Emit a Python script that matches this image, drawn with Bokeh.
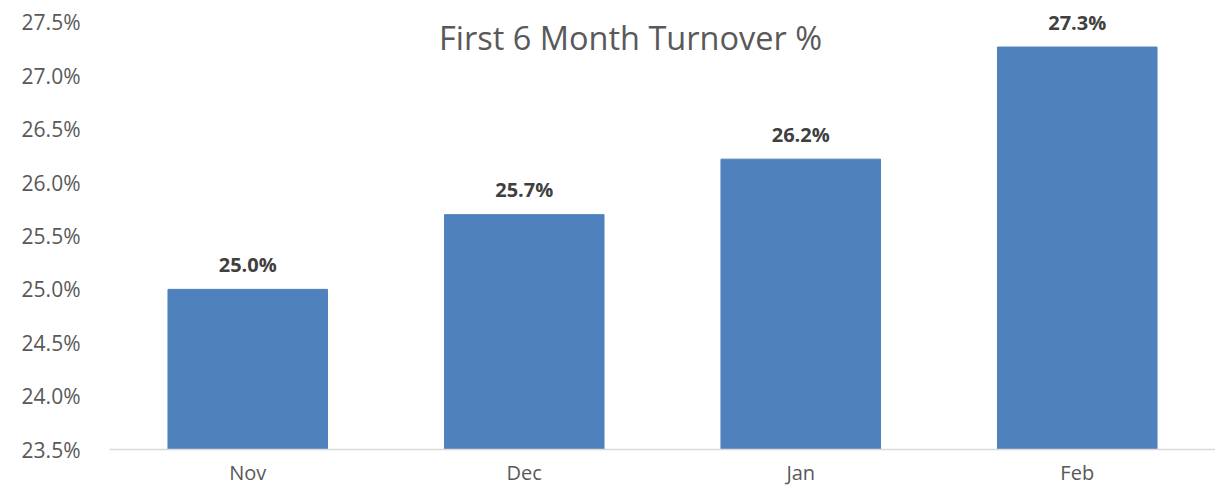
from bokeh.plotting import figure
from bokeh.models import ColumnDataSource, LabelSet, Label, NumeralTickFormatter, FixedTicker, Range1d
from bokeh.core.properties import value
from bokeh.embed import file_html
from bokeh.resources import INLINE

months = ["Nov", "Dec", "Jan", "Feb"]
turnover = [0.250, 0.257, 0.2622, 0.2727]
labels = ["25.0%", "25.7%", "26.2%", "27.3%"]
y_ticks = [0.235, 0.240, 0.245, 0.250, 0.255, 0.260, 0.265, 0.270, 0.275]

src = ColumnDataSource(dict(m=months, v=turnover, lab=labels))

p = figure(x_range=months, y_range=Range1d(0.235, 0.27706), width=1215, height=488,
           output_backend="svg", toolbar_location=None,
           min_border_left=109, min_border_right=0, min_border_top=0, min_border_bottom=39)
p.vbar(x="m", top="v", bottom=0.235, width=0.577, color="#4F81BD", source=src)

p.add_layout(LabelSet(x="m", y="v", text="lab", source=src, text_align="center",
                      text_baseline="middle", y_offset=25, text_font=value("Open Sans"),
                      text_font_size="20px", text_font_style="bold", text_color="#404040"))

p.add_layout(Label(x=521, y=412, x_units="screen", y_units="screen",
                   text="First 6 Month Turnover %", text_align="center", text_baseline="middle",
                   text_font="Open Sans", text_font_size="32.5px", text_color="#595959"))

p.outline_line_color = None
p.xgrid.grid_line_color = None
p.ygrid.grid_line_color = None
p.background_fill_color = "white"
p.border_fill_color = "white"

p.yaxis.ticker = FixedTicker(ticks=y_ticks)
p.yaxis.formatter = NumeralTickFormatter(format="0.0%")
p.yaxis.axis_line_color = None
p.yaxis.major_tick_line_color = None
p.yaxis.minor_tick_line_color = None
p.yaxis.major_label_standoff = 23
p.yaxis.major_label_text_font = "Open Sans"
p.yaxis.major_label_text_font_size = "21px"
p.yaxis.major_label_text_color = "#595959"

p.xaxis.axis_line_color = "#D9D9D9"
p.xaxis.axis_line_width = 1.5
p.xaxis.major_tick_line_color = None
p.xaxis.minor_tick_line_color = None
p.xaxis.major_label_standoff = 3
p.xaxis.major_label_text_font = "Open Sans"
p.xaxis.major_label_text_font_size = "20px"
p.xaxis.major_label_text_color = "#595959"

open("out.html", "w").write(file_html(p, INLINE))
